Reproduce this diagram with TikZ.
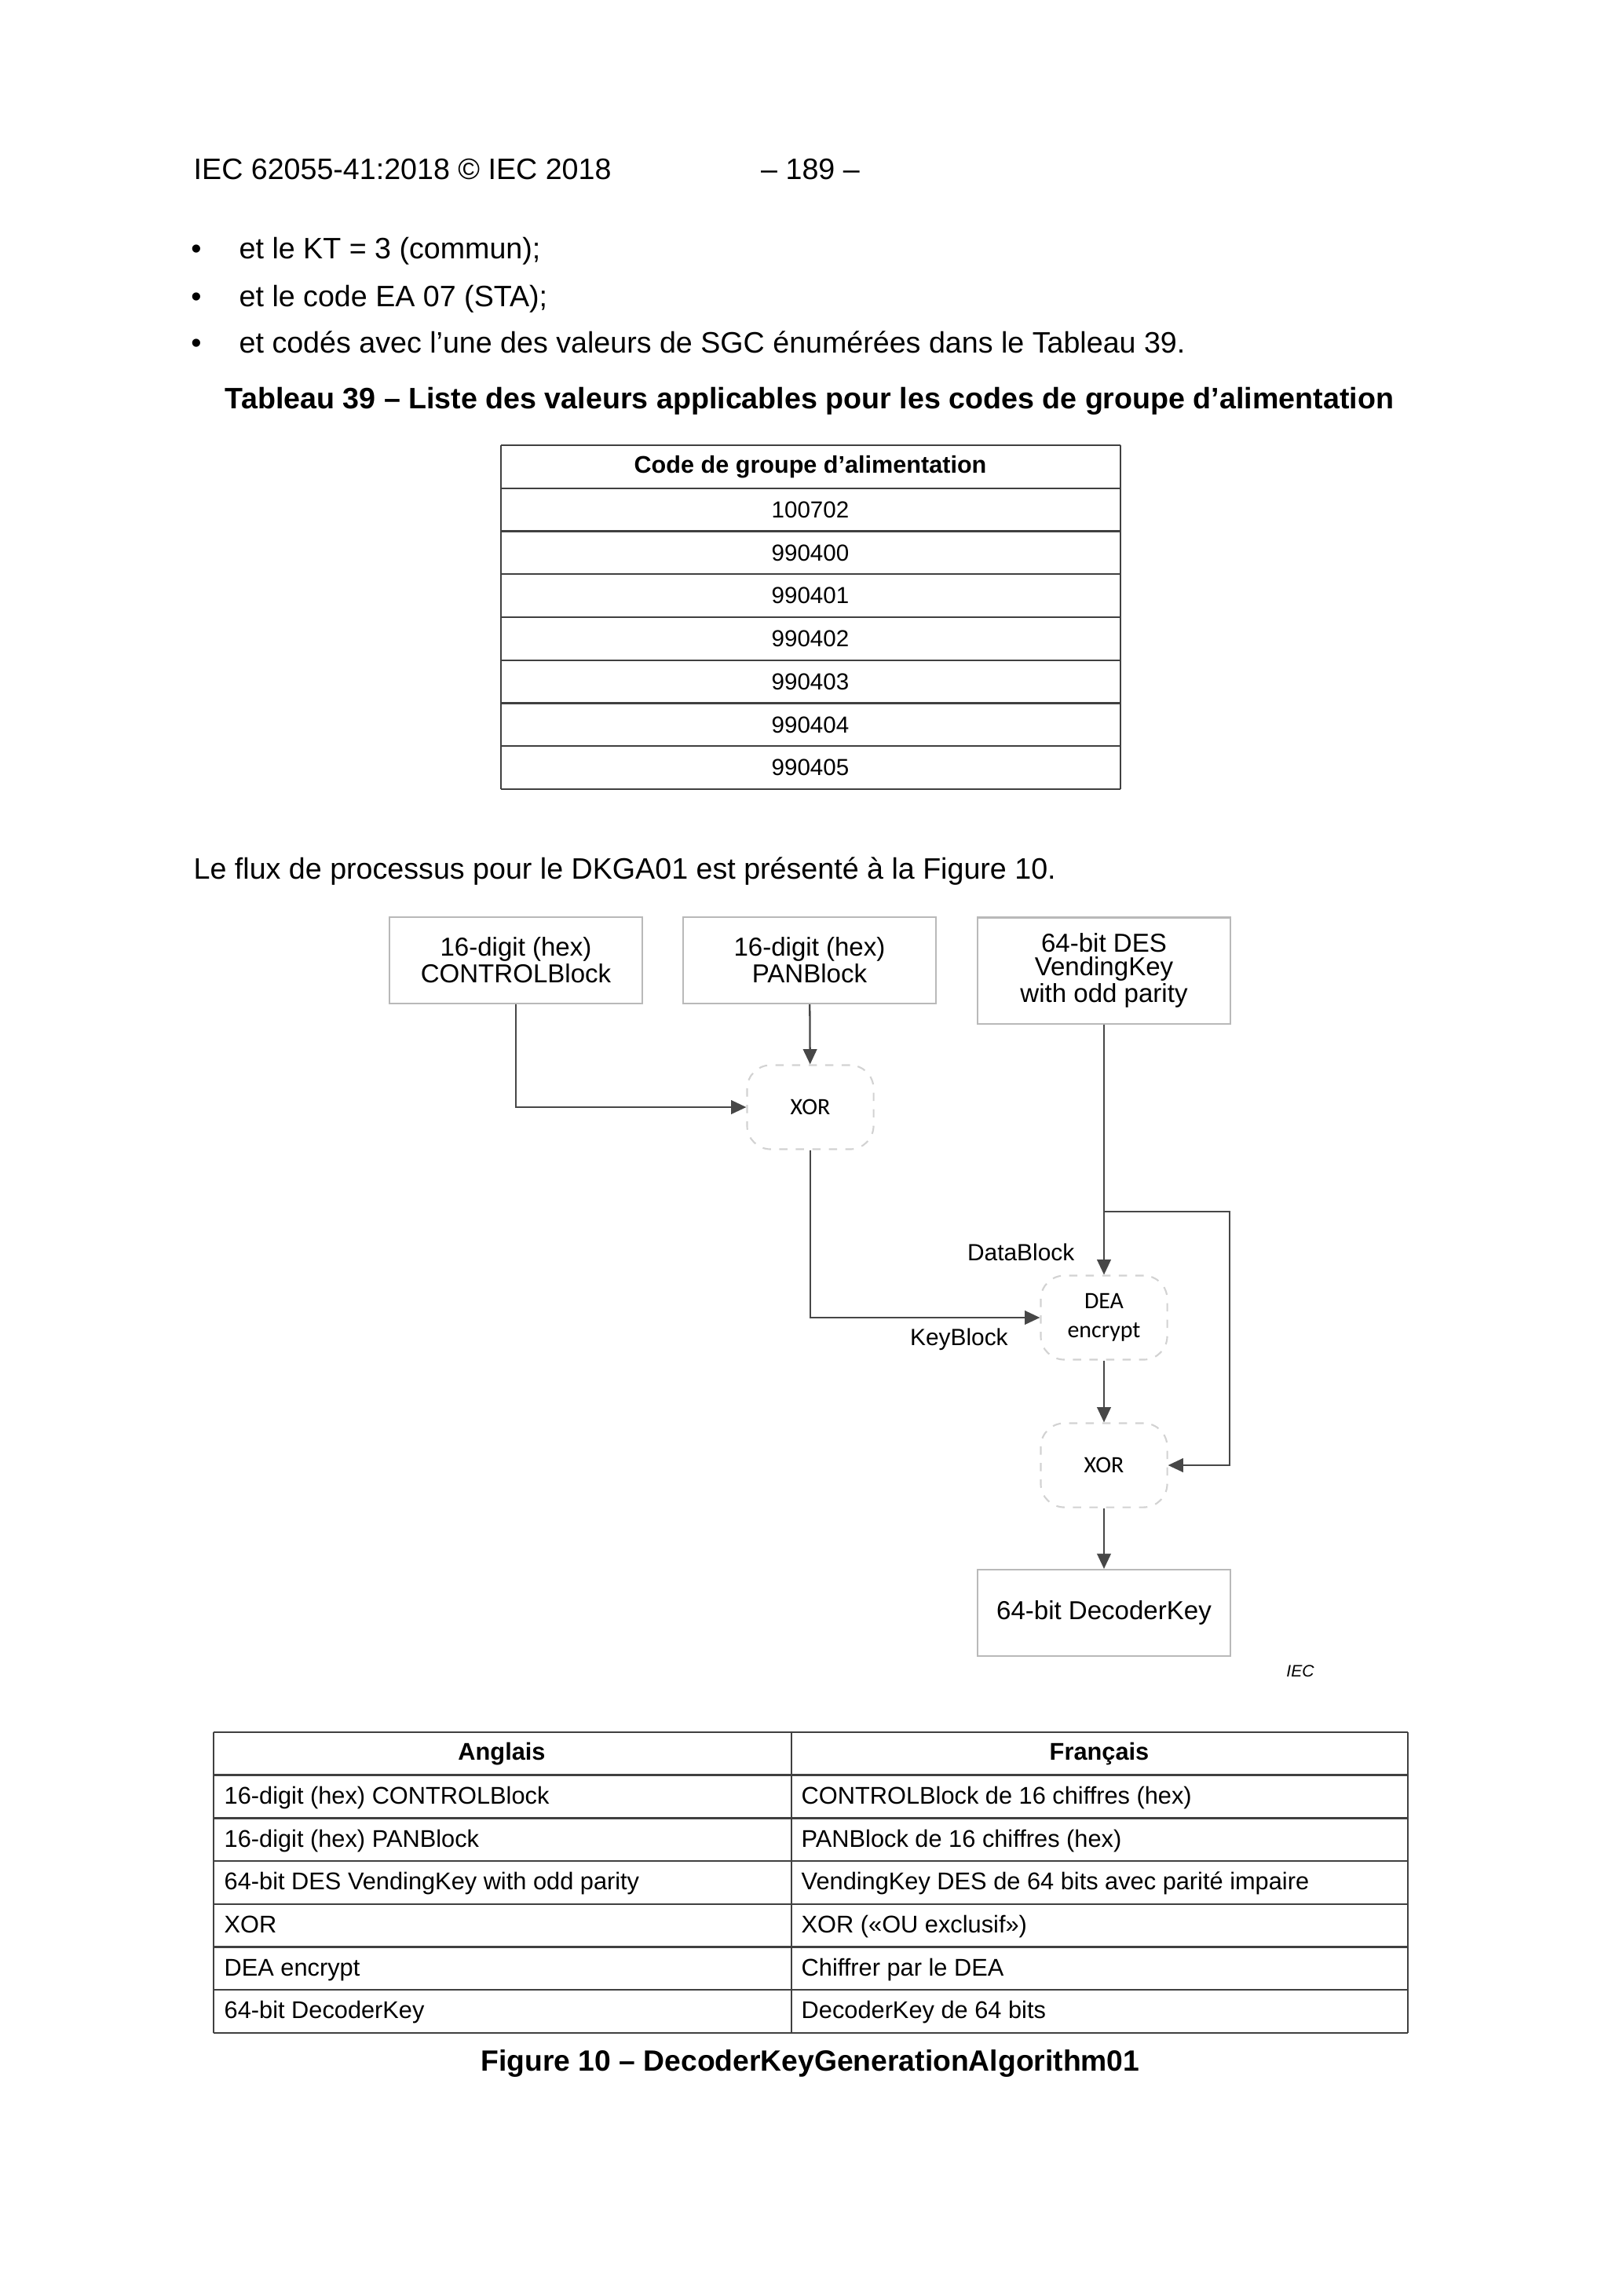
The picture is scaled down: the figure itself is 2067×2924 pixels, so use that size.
\documentclass[tikz,border=0pt]{standalone}
\usepackage{fontspec}
\setmainfont{Liberation Sans}
\newfontfamily\calfont{Carlito}
\usetikzlibrary{positioning,arrows.meta}
\tikzset{
	van/.style={anchor=mid west, inner sep=0pt, font=\fontsize{10.7}{12.8}\selectfont},
	oso/.style={inner sep=0pt, font=\fontsize{8.4}{10}\selectfont},
	hop/.style={draw=gray!55, line width=0.6pt, minimum width=3.21cm, minimum height=1.1cm, align=center, inner sep=1pt, font=\fontsize{9.4}{8.4}\selectfont},
	xorbox/.style={draw=gray!35, dashed, line width=0.6pt, rounded corners=0.3cm, minimum width=1.61cm, minimum height=1.07cm, align=center, inner sep=1pt, font=\calfont\fontsize{8.5}{10.5}\selectfont},
	nhan/.style={inner sep=0pt, font=\fontsize{8.5}{10}\selectfont},
	duong/.style={draw=black!72, line width=0.65pt},
	ke/.style={draw=black!75, line width=0.7pt},
}
\begin{document}
\begin{tikzpicture}[x = 0.01cm, y = -0.01cm, > = {Triangle[length=5.5pt, width=5pt]}]
	\useasboundingbox (0,0) rectangle (2067,2924);
	% Đầu trang
	\path (246,219) node[van]{IEC 62055-41:2018 © IEC 2018};
	\path (1032,219) node[van, anchor=mid]{– 189 –};
	\foreach \y/\ytext in {320/{et le KT = 3 (commun);},381/{et le code EA 07 (STA);},440/{et codés avec l'une des valeurs de SGC énumérées dans le Tableau 39.}}
	{
		\path (250,\y) node[van, anchor=mid]{\textbullet};
		\path (304,\y) node[van]{\ytext};
	}
	\path (1031,511) node[van, anchor=mid, font=\bfseries\fontsize{10.7}{12.8}\selectfont]{Tableau 39 – Liste des valeurs applicables pour les codes de groupe d'alimentation};
	% Bảng 39
	\foreach \i in {0,...,8}
	\draw[ke] (638,{567+54.75*\i}) -- (1427,{567+54.75*\i});
	\draw[ke] (638,567) -- (638,1005);
	\draw[ke] (1427,567) -- (1427,1005);
	\path (1032,{567+54.75*0.5}) node[oso, font=\bfseries\fontsize{8.7}{10}\selectfont]{Code de groupe d’alimentation};
	\foreach \ma [count=\i] in {100702,990400,990401,990402,990403,990404,990405}
	\path (1032,{567+54.75*(\i+0.5)}) node[oso]{\ma};
	\path (246,1110) node[van]{Le flux de processus pour le DKGA01 est présenté à la Figure 10.};
	% Sơ đồ
	\node[hop] (ctrl) at (657,1223) {16-digit (hex)\\CONTROLBlock};
	\node[hop] (pan) at (1031,1223) {16-digit (hex)\\PANBlock};
	\node[hop, minimum height=1.35cm] (vkey) at (1406,1236) {64-bit DES\\VendingKey\\with odd parity};
	\node[xorbox] (xor1) at (1032,1410) {XOR};
	\node[xorbox] (dea) at (1406,1678) {DEA\\encrypt};
	\node[xorbox] (xor2) at (1406,1866) {XOR};
	\node[hop, font=\fontsize{9.4}{11}\selectfont] (dkey) at (1406,2054) {64-bit DecoderKey};
	\coordinate (tach) at (1406,1543);
	\coordinate (vong) at (1566,1543);
	\draw[duong, ->] (ctrl.south) |- (xor1.west);
	\draw[duong, ->] (pan) -- (xor1);
	\draw[duong, ->] (xor1.south) |- (dea.west);
	\draw[duong, ->] (vkey) -- (dea);
	\draw[duong, ->] (tach) -- (vong) |- (xor2.east);
	\draw[duong, ->] (dea) -- (xor2);
	\draw[duong, ->] (xor2) -- (dkey);
	\node[nhan, above left=0.17cm and 0.37cm of dea.north] (dblk) {DataBlock};
	\node[nhan, below left=0.13cm and 0.4cm of dea.west] (kblk) {KeyBlock};
	\path (1656,2128) node[inner sep=0pt, font=\itshape\fontsize{6}{7}\selectfont]{IEC};
	% Bảng dịch
	\foreach \i in {0,...,7}
	\draw[ke] (272,{2206+54.7*\i}) -- (1793,{2206+54.7*\i});
	\draw[ke] (272,2206) -- (272,2589);
	\draw[ke] (1008,2206) -- (1008,2589);
	\draw[ke] (1793,2206) -- (1793,2589);
	\path (639,{2206+54.7*0.5}) node[oso, font=\bfseries\fontsize{8.75}{10}\selectfont]{Anglais};
	\path (1400,{2206+54.7*0.5}) node[oso, font=\bfseries\fontsize{8.75}{10}\selectfont]{Français};
	\foreach \en/\fr [count=\i] in {{16-digit (hex) CONTROLBlock}/{CONTROLBlock de 16 chiffres (hex)},{16-digit (hex) PANBlock}/{PANBlock de 16 chiffres (hex)},{64-bit DES VendingKey with odd parity}/{VendingKey DES de 64 bits avec parité impaire},{XOR}/{XOR («OU exclusif»)},{DEA encrypt}/{Chiffrer par le DEA},{64-bit DecoderKey}/{DecoderKey de 64 bits}}
	{
		\path (285,{2206+54.7*(\i+0.5)}) node[oso, anchor=mid west, font=\fontsize{8.75}{10}\selectfont]{\en};
		\path (1020,{2206+54.7*(\i+0.5)}) node[oso, anchor=mid west, font=\fontsize{8.75}{10}\selectfont]{\fr};
	}
	\path (1032,2628) node[van, anchor=mid, font=\bfseries\fontsize{10.6}{12.6}\selectfont]{Figure 10 – DecoderKeyGenerationAlgorithm01};
\end{tikzpicture}
\end{document}
